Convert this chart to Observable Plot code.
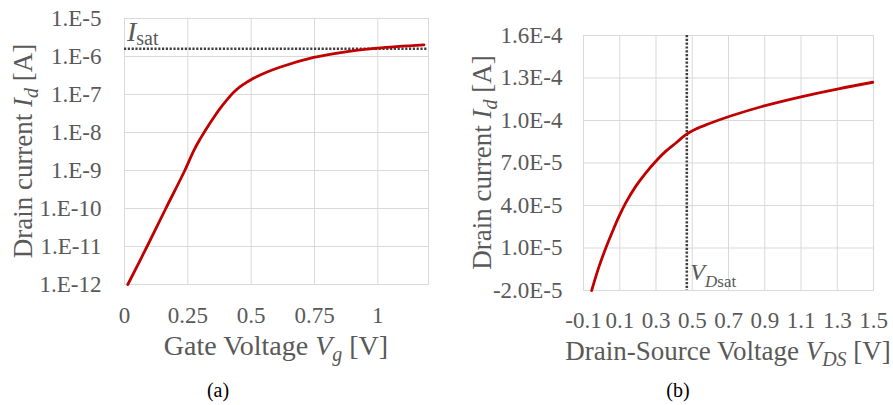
<!DOCTYPE html>
<html>
<head>
<meta charset="utf-8">
<script src="https://cdn.jsdelivr.net/npm/d3@7"></script>
<script src="https://cdn.jsdelivr.net/npm/@observablehq/plot@0.6"></script>
<style>
  body { margin: 0; background: #fff; }
  #fig { position: relative; width: 893px; height: 405px; font-family: "Liberation Serif", "Times New Roman", serif; overflow: hidden; }
  #fig svg { position: absolute; top: 0; overflow: visible; font-family: "Liberation Serif", "Times New Roman", serif; }
  #fig svg text { font-family: "Liberation Serif", "Times New Roman", serif; }
  .cap { position: absolute; top: 379px; font-size: 20px; line-height: 22px; text-align: center; color: #000; }
</style>
</head>
<body>
<div id="fig"></div>
<script>
// (a) transfer characteristic: drain current vs gate voltage (log scale)
const gateVoltage = [0.013, 0.089, 0.163, 0.238, 0.274, 0.300, 0.327, 0.353, 0.379, 0.405, 0.432, 0.458, 0.484, 0.511, 0.563, 0.616, 0.747, 0.853, 0.998, 1.182];
const gateCurrent = [1.0e-12, 1.0e-11, 1.0e-10, 1.0e-9, 3.4e-9, 7.0e-9, 1.38e-8, 2.53e-8, 4.44e-8, 7.35e-8, 1.16e-7, 1.64e-7, 2.12e-7, 2.7e-7, 3.9e-7, 5.3e-7, 9.42e-7, 1.27e-6, 1.66e-6, 2.03e-6];
const saturationCurrent = 1.6e-6;
const gateTicks = [0, 0.25, 0.5, 0.75, 1];
const gateTickLabels = ["0", "0.25", "0.5", "0.75", "1"];
const logTicks = [1e-12, 1e-11, 1e-10, 1e-9, 1e-8, 1e-7, 1e-6, 1e-5];
const logTickLabels = ["1.E-12", "1.E-11", "1.E-10", "1.E-9", "1.E-8", "1.E-7", "1.E-6", "1.E-5"];

// (b) output characteristic: drain current vs drain-source voltage (linear scale)
const drainVoltage = [-0.055, -0.014, 0.023, 0.06, 0.096, 0.133, 0.188, 0.243, 0.298, 0.353, 0.41, 0.465, 0.52, 0.591, 0.72, 0.885, 1.106, 1.307, 1.496];
const drainCurrent = [-2.0e-5, -3.0e-6, 1.0e-5, 2.17e-5, 3.23e-5, 4.18e-5, 5.35e-5, 6.29e-5, 7.11e-5, 7.82e-5, 8.41e-5, 9.0e-5, 9.4e-5, 9.77e-5, 1.035e-4, 1.099e-4, 1.169e-4, 1.224e-4, 1.27e-4];
const saturationVoltage = 0.47;
const drainTicks = [-0.1, 0.1, 0.3, 0.5, 0.7, 0.9, 1.1, 1.3, 1.5];
const drainTickLabels = ["-0.1", "0.1", "0.3", "0.5", "0.7", "0.9", "1.1", "1.3", "1.5"];
const linTicks = [-2e-5, 1e-5, 4e-5, 7e-5, 1e-4, 1.3e-4, 1.6e-4];
const linTickLabels = ["-2.0E-5", "1.0E-5", "4.0E-5", "7.0E-5", "1.0E-4", "1.3E-4", "1.6E-4"];

const gridColor = "#d9d9d9";
const curveColor = "#c00000";
const dotColor = "#404040";
const textColor = "#595959";
const fontStack = "Liberation Serif, Times New Roman, serif";

const gateRows = gateVoltage.map((v, i) => ({v, id: gateCurrent[i]}));
const drainRows = drainVoltage.map((v, i) => ({v, id: drainCurrent[i]}));

function labelFrom(ticks, labels) {
  return d => labels[ticks.findIndex(t => Math.abs(t - d) <= Math.abs(d) * 1e-6 + 1e-15)];
}

// Write a text line built from parts: [string, {italic, sub}]
function richText(g, parts, size, subSize, subShift = 6) {
  const t = g.append("text")
    .attr("fill", textColor)
    .attr("font-family", fontStack)
    .attr("font-size", size);
  let shift = 0;
  for (const [s, o = {}] of parts) {
    const target = o.sub ? subShift : 0;
    t.append("tspan")
      .attr("dy", target - shift)
      .attr("font-style", o.italic ? "italic" : null)
      .attr("font-size", o.sub ? subSize : null)
      .text(s);
    shift = target;
  }
  return t;
}

const axisText = {fontFamily: fontStack, fontSize: 23, fill: textColor, tickSize: 0, label: null};
const fig = d3.select("#fig");

// ---------- panel (a) ----------
const A = {width: 440, height: 345, ml: 124, mr: 12, mt: 18, mb: 61};
const plotA = Plot.plot({
  width: A.width, height: A.height,
  marginLeft: A.ml, marginRight: A.mr, marginTop: A.mt, marginBottom: A.mb,
  style: {fontFamily: fontStack, fontSize: "23px", color: textColor, background: "transparent"},
  x: {domain: [0, 1.2]},
  y: {type: "log", domain: [1e-12, 1e-5]},
  marks: [
    Plot.gridX(gateTicks, {stroke: gridColor, strokeOpacity: 1}),
    Plot.gridY(logTicks, {stroke: gridColor, strokeOpacity: 1}),
    Plot.frame({stroke: gridColor}),
    Plot.axisX(gateTicks, {...axisText, tickPadding: 22, tickFormat: labelFrom(gateTicks, gateTickLabels)}),
    Plot.axisY(logTicks, {...axisText, tickPadding: 23, tickFormat: labelFrom(logTicks, logTickLabels)}),
    Plot.ruleY([saturationCurrent], {stroke: dotColor, strokeWidth: 2.6, strokeDasharray: "2.2,1.6"}),
    Plot.line(gateRows, {x: "v", y: "id", stroke: curveColor, strokeWidth: 2.8, curve: "catmull-rom"})
  ]
});
plotA.style.left = "0px";
fig.node().appendChild(plotA);
{
  const svg = d3.select(plotA);
  const cx = A.ml + (A.width - A.ml - A.mr) / 2;
  const cy = A.mt + (A.height - A.mt - A.mb) / 2;
  richText(svg, [["Gate Voltage "], ["V", {italic: true}], ["g", {italic: true, sub: true}], [" [V]"]], 28, 20)
    .attr("x", cx).attr("y", 355).attr("text-anchor", "middle");
  richText(svg, [["Drain current "], ["I", {italic: true}], ["d", {italic: true, sub: true}], [" [A]"]], 27, 20)
    .attr("transform", `translate(32,${cy}) rotate(-90)`).attr("text-anchor", "middle");
  const ys = plotA.scale("y").apply(saturationCurrent);
  richText(svg, [["I", {italic: true}], ["sat", {sub: true}]], 28, 20, 4)
    .attr("x", A.ml + 3).attr("y", ys - 7).attr("text-anchor", "start");
}

// ---------- panel (b) ----------
const B = {left: 458, width: 435, height: 345, ml: 125, mr: 20, mt: 35, mb: 55};
const plotB = Plot.plot({
  width: B.width, height: B.height,
  marginLeft: B.ml, marginRight: B.mr, marginTop: B.mt, marginBottom: B.mb,
  style: {fontFamily: fontStack, fontSize: "23px", color: textColor, background: "transparent"},
  x: {domain: [-0.1, 1.5]},
  y: {domain: [-2e-5, 1.6e-4]},
  marks: [
    Plot.gridX(drainTicks, {stroke: gridColor, strokeOpacity: 1}),
    Plot.gridY(linTicks, {stroke: gridColor, strokeOpacity: 1}),
    Plot.frame({stroke: gridColor}),
    Plot.axisX(drainTicks, {...axisText, tickPadding: 21, tickFormat: labelFrom(drainTicks, drainTickLabels)}),
    Plot.axisY(linTicks, {...axisText, tickPadding: 21, tickFormat: labelFrom(linTicks, linTickLabels)}),
    Plot.ruleX([saturationVoltage], {stroke: dotColor, strokeWidth: 2.6, strokeDasharray: "2.2,1.6"}),
    Plot.line(drainRows, {x: "v", y: "id", stroke: curveColor, strokeWidth: 2.8, curve: "catmull-rom"})
  ]
});
plotB.style.left = B.left + "px";
fig.node().appendChild(plotB);
{
  const svg = d3.select(plotB);
  const cx = B.ml + (B.width - B.ml - B.mr) / 2;
  const cy = B.mt + (B.height - B.mt - B.mb) / 2;
  richText(svg, [["Drain-Source Voltage "], ["V", {italic: true}], ["DS", {italic: true, sub: true}], [" [V]"]], 27, 20)
    .attr("x", cx).attr("y", 360).attr("text-anchor", "middle");
  richText(svg, [["Drain current "], ["I", {italic: true}], ["d", {italic: true, sub: true}], [" [A]"]], 27, 20)
    .attr("transform", `translate(33,${cy}) rotate(-90)`).attr("text-anchor", "middle");
  const xs = plotB.scale("x").apply(saturationVoltage);
  const yb = plotB.scale("y").apply(-2e-5);
  const t = svg.append("text")
    .attr("fill", textColor).attr("font-family", fontStack).attr("text-anchor", "start")
    .attr("x", xs + 4).attr("y", yb - 10);
  t.append("tspan").attr("font-style", "italic").attr("font-size", 24).text("V");
  t.append("tspan").attr("font-style", "italic").attr("font-size", 17).attr("dy", 7).text("D");
  t.append("tspan").attr("font-size", 17).text("sat");
}

// panel captions
fig.append("div").attr("class", "cap").style("left", "0px").style("width", "436px").text("(a)");
fig.append("div").attr("class", "cap").style("left", "578px").style("width", "200px").text("(b)");
</script>
</body>
</html>
